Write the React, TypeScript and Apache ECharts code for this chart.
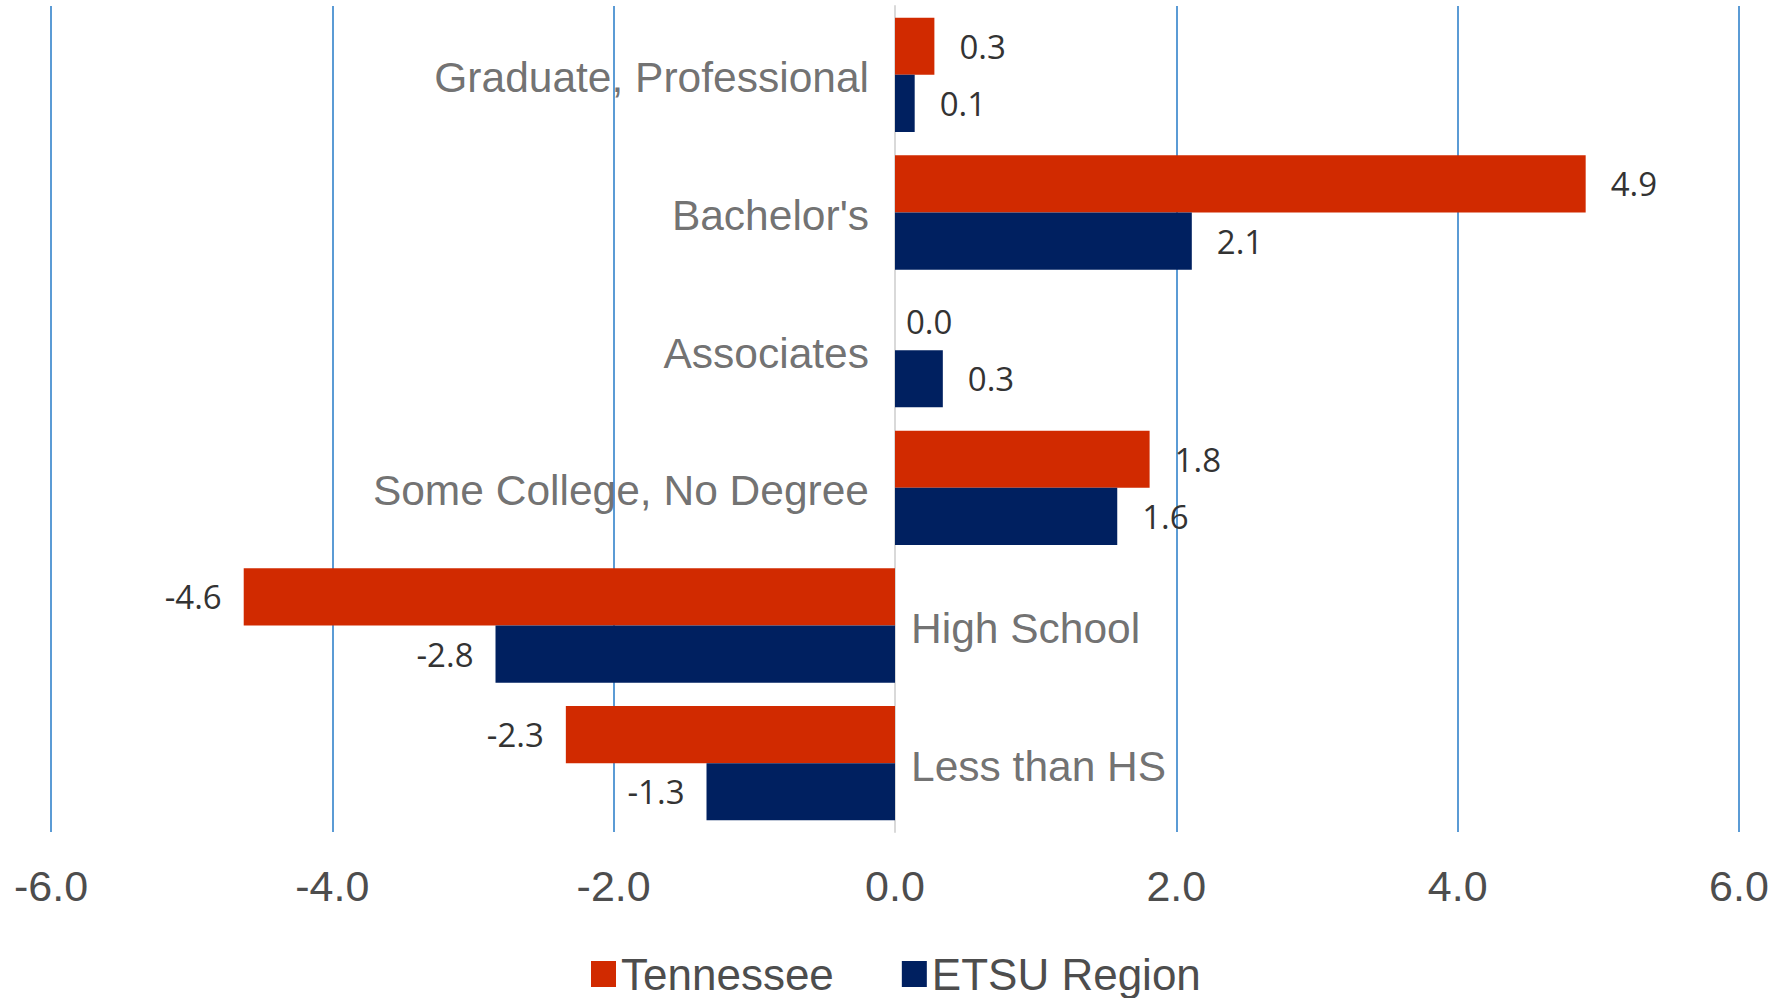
import React, { useEffect, useRef } from "react";
import * as echarts from "echarts";

const categories = [
  "Graduate, Professional",
  "Bachelor's",
  "Associates",
  "Some College, No Degree",
  "High School",
  "Less than HS",
];
const tennessee = [0.28, 4.91, 0.0, 1.81, -4.63, -2.34];
const etsuRegion = [0.14, 2.11, 0.34, 1.58, -2.84, -1.34];
const seriesNames = ["Tennessee", "ETSU Region"];
const xTicks = { min: -6, max: 6, interval: 2 };

const RED = "#d12a00";
const BLUE = "#002060";
const GREY_TEXT = "#4d4d4d";
const LABEL_TEXT = "#333333";
const SANS = "'Liberation Sans', Arial, sans-serif";
const NUM = "'Open Sans', sans-serif";

function barData(values: number[]) {
  return values.map((v) => ({
    value: v,
    label: {
      position: v < 0 ? "left" : "right",
      distance: v === 0 ? 11 : v < 0 ? 22 : 25,
    },
  }));
}

export default function App() {
  const ref = useRef<HTMLDivElement>(null);
  useEffect(() => {
    if (!ref.current) return;
    const chart = echarts.init(ref.current, undefined, { renderer: "svg" });
    const barLabel = {
      show: true,
      fontFamily: NUM,
      fontSize: 33,
      color: LABEL_TEXT,
      formatter: (p: any) => Number(p.value).toFixed(1),
    };
    chart.setOption({
      animation: false,
      backgroundColor: "#ffffff",
      grid: { left: 51, right: 42, top: 6, bottom: 166, containLabel: false },
      legend: {
        data: seriesNames,
        left: 586,
        top: 947,
        itemWidth: 25,
        itemHeight: 26,
        itemGap: 68,
        icon: "rect",
        textStyle: { fontFamily: SANS, fontSize: 44, color: GREY_TEXT, lineHeight: 44 },
      },
      xAxis: {
        type: "value",
        min: xTicks.min,
        max: xTicks.max,
        interval: xTicks.interval,
        axisLine: { show: false },
        axisTick: { show: false },
        splitLine: { show: true, lineStyle: { color: "#5b9bd5", width: 2 } },
        axisLabel: {
          fontFamily: SANS,
          fontSize: 43,
          color: GREY_TEXT,
          margin: 32,
          formatter: (v: number) => v.toFixed(1),
        },
      },
      yAxis: {
        type: "category",
        inverse: true,
        data: categories,
        axisLine: { show: true, onZero: true, lineStyle: { color: "#d9d9d9", width: 2 } },
        axisTick: { show: false },
        axisLabel: { show: false },
        splitLine: { show: false },
      },
      series: [
        {
          name: seriesNames[0],
          type: "bar",
          data: barData(tennessee),
          itemStyle: { color: RED },
          barGap: "0%",
          barCategoryGap: "17%",
          label: barLabel,
        },
        {
          name: seriesNames[1],
          type: "bar",
          data: barData(etsuRegion),
          itemStyle: { color: BLUE },
          barGap: "0%",
          barCategoryGap: "17%",
          label: barLabel,
        },
        {
          name: "categoryLabels",
          type: "scatter",
          symbolSize: 0,
          silent: true,
          data: categories.map((c, i) => ({
            value: [0, i],
            name: c,
            label: {
              position: tennessee[i] < 0 ? "right" : "left",
              distance: tennessee[i] < 0 ? 16 : 26,
            },
          })),
          label: {
            show: true,
            fontFamily: SANS,
            fontSize: 42.5,
            color: GREY_TEXT,
            offset: [0, 3],
            formatter: (p: any) => p.name,
          },
          z: 5,
        },
      ],
    });
    return () => chart.dispose();
  }, []);
  return (
    <div
      ref={ref}
      style={{ position: "absolute", left: 0, top: 0, width: 1781, height: 998 }}
    />
  );
}
